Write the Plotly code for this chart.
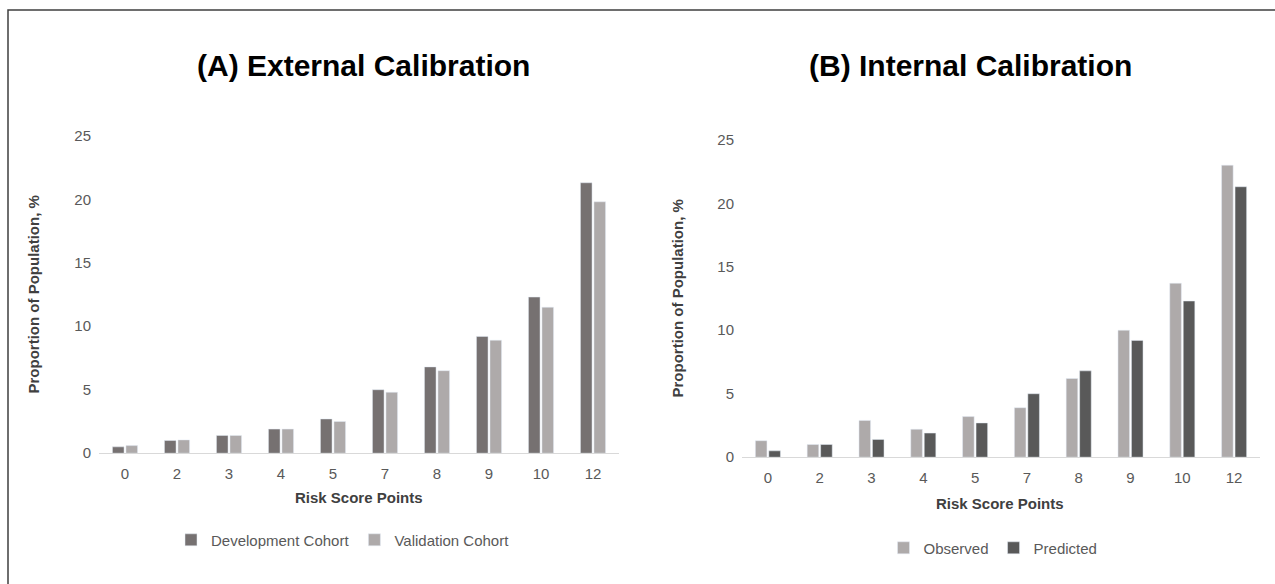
import plotly.graph_objects as go

categories = ["0", "2", "3", "4", "5", "7", "8", "9", "10", "12"]
development = [0.5, 1.0, 1.4, 1.9, 2.7, 5.0, 6.8, 9.2, 12.3, 21.3]
validation = [0.6, 1.05, 1.4, 1.9, 2.5, 4.8, 6.5, 8.9, 11.5, 19.8]
observed = [1.3, 1.0, 2.9, 2.2, 3.2, 3.9, 6.2, 10.0, 13.7, 23.0]
predicted = [0.5, 1.0, 1.4, 1.9, 2.7, 5.0, 6.8, 9.2, 12.3, 21.3]
y_ticks = [0, 5, 10, 15, 20, 25]

W, H = 1275, 584
FONT = "Liberation Sans, Arial, sans-serif"
DARK_A = "#767171"
LIGHT = "#AEAAAA"
DARK_B = "#595959"
TXT = "#595959"


def px(x):
    return x / W


def py(y):
    # page rendering maps the figure into screen rows 8..576
    return 1 - (y - 8) / 568


fig = go.Figure()
fig.add_trace(go.Bar(x=categories, y=development, name="Development Cohort",
                     marker_color=DARK_A, xaxis="x", yaxis="y", legend="legend"))
fig.add_trace(go.Bar(x=categories, y=validation, name="Validation Cohort",
                     marker_color=LIGHT, xaxis="x", yaxis="y", legend="legend"))
fig.add_trace(go.Bar(x=categories, y=observed, name="Observed",
                     marker_color=LIGHT, xaxis="x2", yaxis="y2", legend="legend2"))
fig.add_trace(go.Bar(x=categories, y=predicted, name="Predicted",
                     marker_color=DARK_B, xaxis="x2", yaxis="y2", legend="legend2"))

xcommon = dict(type="category", showgrid=False, showline=True, linecolor="#D9D9D9",
               linewidth=1, ticks="", tickfont=dict(family=FONT, size=15, color=TXT),
               ticklabelstandoff=7, fixedrange=True)
ycommon = dict(range=[0, 25], tickvals=y_ticks, showgrid=False, showline=False,
               zeroline=False, ticks="", tickfont=dict(family=FONT, size=15, color=TXT),
               ticklabelstandoff=7, fixedrange=True)

fig.update_layout(
    width=W, height=H,
    autosize=False,
    margin=dict(l=0, r=0, t=0, b=0),
    paper_bgcolor="white", plot_bgcolor="white",
    barmode="group", bargap=0.48, bargroupgap=0.14,
    xaxis=dict(domain=[px(99), px(619)], anchor="y", **xcommon),
    yaxis=dict(domain=[py(453), py(135)], anchor="x", **ycommon),
    xaxis2=dict(domain=[px(742), px(1260)], anchor="y2", **xcommon),
    yaxis2=dict(domain=[py(457), py(139)], anchor="x2", **ycommon),
    legend=dict(orientation="h", x=px(343), y=py(540), xanchor="center", yanchor="middle",
                font=dict(family=FONT, size=15, color=TXT), bgcolor="rgba(0,0,0,0)",
                itemwidth=30, tracegroupgap=0),
    legend2=dict(orientation="h", x=px(993), y=py(548), xanchor="center", yanchor="middle",
                 font=dict(family=FONT, size=15, color=TXT), bgcolor="rgba(0,0,0,0)",
                 itemwidth=30, tracegroupgap=0),
    showlegend=True,
)

ann = [
    dict(text="<b>(A) External Calibration</b>", x=px(363), y=py(65), size=30, color="black"),
    dict(text="<b>(B) Internal Calibration</b>", x=px(970), y=py(65), size=30, color="black"),
    dict(text="<b>Risk Score Points</b>", x=px(359), y=py(497), size=15, color="#404040"),
    dict(text="<b>Risk Score Points</b>", x=px(1000), y=py(503), size=15, color="#404040"),
]
for a in ann:
    fig.add_annotation(text=a["text"], x=a["x"], y=a["y"], xref="paper", yref="paper",
                       xanchor="center", yanchor="middle", showarrow=False,
                       font=dict(family=FONT, size=a["size"], color=a["color"]))
for xx, yy in [(33, 294), (677, 298)]:
    fig.add_annotation(text="<b>Proportion of Population, %</b>", x=px(xx), y=py(yy),
                       xref="paper", yref="paper", xanchor="center", yanchor="middle",
                       textangle=-90, showarrow=False,
                       font=dict(family=FONT, size=15, color="#404040"))

fig.add_shape(type="rect", xref="paper", yref="paper", x0=px(8), x1=1.02,
              y0=-0.05, y1=py(9), line=dict(color="#3F3F3F", width=1.5),
              fillcolor="rgba(0,0,0,0)", layer="above")

post = (
    "document.documentElement.style.margin='0';"
    "document.body.style.margin='0';"
    "document.body.style.overflow='hidden';"
)

fig.write_html("out.html", config={"displayModeBar": False}, post_script=post)
